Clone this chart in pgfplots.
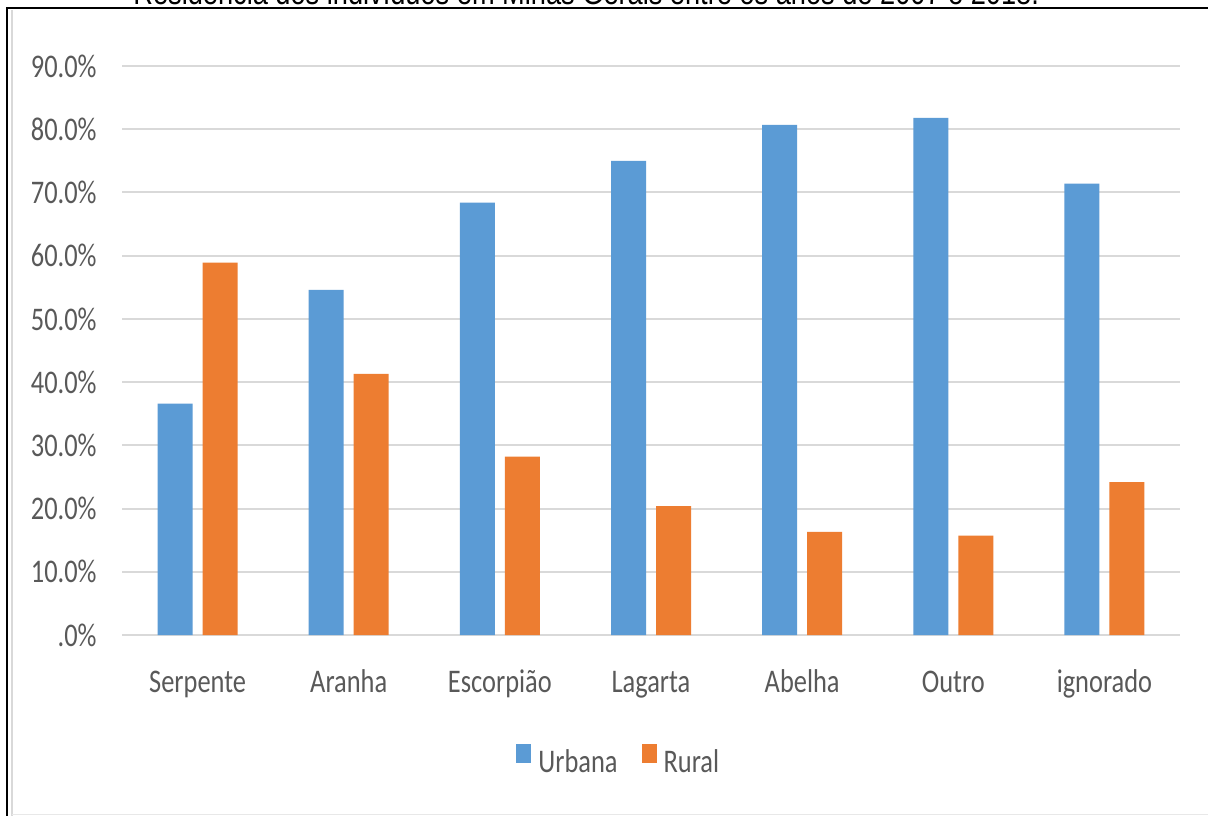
\documentclass[border=0pt]{standalone}
\usepackage{fontspec}
\setmainfont{Carlito}[FakeStretch=0.8]
\newfontfamily\titlefont{Liberation Sans}[FakeStretch=0.8]
\usepackage{pgfplots}
\pgfplotsset{compat=1.18}
\definecolor{urb}{HTML}{5B9BD5}
\definecolor{rur}{HTML}{ED7D31}
\definecolor{txt}{HTML}{595959}
\definecolor{grd}{HTML}{D9D9D9}
\begin{document}
\begin{tikzpicture}
\useasboundingbox (0,0) rectangle (604pt,407.5pt);
\clip (0,0) rectangle (604pt,407.5pt);
\fill[white] (0,0) rectangle (604pt,407.5pt);
\node[anchor=base west, inner sep=0pt, font=\titlefont\fontsize{17}{20}\selectfont] at (66.5pt,405pt) {Residência dos indivíduos em Minas Gerais entre os anos de 2007 e 2018.};
\draw[black, line width=1.4pt] (3.5pt,-2pt) -- (3.5pt,403.5pt) -- (610pt,403.5pt);
\draw[grd, line width=1pt] (5.8pt,-2pt) -- (5.8pt,402.5pt);
\draw[grd!60, line width=0.6pt] (5.8pt,0.3pt) -- (610pt,0.3pt);
\begin{axis}[
  at={(61pt,90pt)}, anchor=south west,
  scale only axis, width=529pt, height=284.5pt,
  ymin=0, ymax=90, xmin=-0.5, xmax=6.5,
  ybar=5pt, bar width=17.5pt,
  axis line style={draw=none},
  major tick length=0pt, tick style={draw=none},
  ytick={0,10,20,30,40,50,60,70,80,90},
  yticklabels={.0\%,10.0\%,20.0\%,30.0\%,40.0\%,50.0\%,60.0\%,70.0\%,80.0\%,90.0\%},
  ymajorgrids, grid style={grd, line width=1pt},
  xtick={0,1,2,3,4,5,6},
  xticklabels={Serpente,Aranha,Escorpião,Lagarta,Abelha,Outro,ignorado},
  tick label style={font=\fontsize{16.5}{19}\selectfont, text=txt},
  yticklabel style={anchor=east, inner sep=0pt, xshift=-12.5pt},
  xticklabel style={anchor=base, inner sep=0pt, yshift=-28.5pt},
  legend image code/.code={\fill[#1] (0pt,0pt) rectangle (7.5pt,9.5pt);},
  legend columns=2,
  legend style={at={(0.3724,-0.2197)}, anchor=west, draw=none, fill=none, inner sep=0pt,
    column sep=3.5pt, /tikz/every even column/.append style={column sep=12pt},
    font=\fontsize{16.5}{19}\selectfont, text=txt, nodes={inner sep=0pt}},
]
\addplot[fill=urb, draw=none] coordinates {(0,36.6) (1,54.6) (2,68.4) (3,75.0) (4,80.7) (5,81.8) (6,71.4)};
\addplot[fill=rur, draw=none] coordinates {(0,58.9) (1,41.3) (2,28.2) (3,20.4) (4,16.3) (5,15.7) (6,24.2)};
\legend{Urbana,Rural}
\end{axis}
\end{tikzpicture}
\end{document}
